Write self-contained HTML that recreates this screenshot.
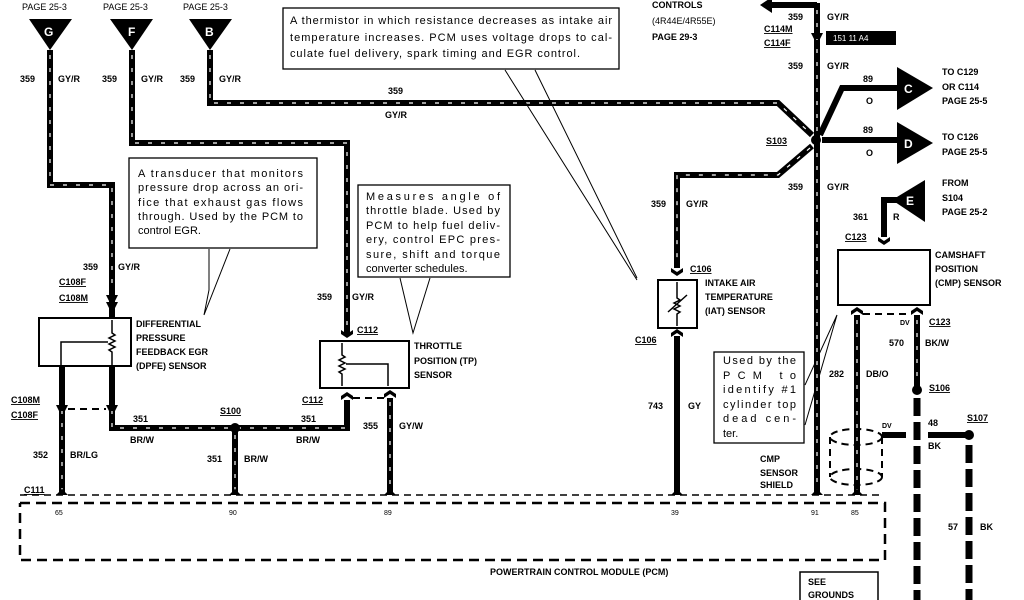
<!DOCTYPE html>
<html><head><meta charset="utf-8"><style>
html,body{margin:0;padding:0;background:#fff;}
svg{display:block;}
text{font-family:"Liberation Sans",sans-serif;fill:#000;}
.b{font-weight:bold;font-size:9px;}
.n{font-size:9px;}
.c{font-size:11px;}
.w{stroke:#000;stroke-width:6;fill:none;stroke-linejoin:miter;}
.s{stroke:#fff;stroke-width:1.2;fill:none;stroke-dasharray:4 9;}
.t{stroke:#000;stroke-width:1.5;fill:none;}
.bx{stroke:#000;stroke-width:2;fill:#fff;}
.d{stroke:#000;stroke-width:2.5;fill:none;stroke-dasharray:10 6;}
.dd{stroke:#000;stroke-width:2;fill:none;stroke-dasharray:7 5;}
.hd{stroke:#000;stroke-width:7;fill:none;stroke-dasharray:18 6;}
</style></head><body>
<svg width="1024" height="600" viewBox="0 0 1024 600" xmlns="http://www.w3.org/2000/svg">
<text x="22" y="10" class="n">PAGE  25-3</text>
<text x="103" y="10" class="n">PAGE  25-3</text>
<text x="183" y="10" class="n">PAGE  25-3</text>
<polygon points="29,19 72,19 50,50" fill="#000"/><text x="44" y="36" class="b" style="font-size:12px;fill:#fff">G</text>
<polygon points="110,19 153,19 132,50" fill="#000"/><text x="128" y="36" class="b" style="font-size:12px;fill:#fff">F</text>
<polygon points="189,19 232,19 210,50" fill="#000"/><text x="205" y="36" class="b" style="font-size:12px;fill:#fff">B</text>

<g>
<path class="w" d="M50,50 V185 H112 V318"/><path class="s" d="M50,55 V185 H112 V290"/>
<path class="w" d="M132,50 V143 H347 V335"/><path class="s" d="M132,55 V143 H347 V325"/>
<path class="w" d="M210,50 V103 H778 L812,135"/><path class="s" d="M210,55 V103 H778 L810,133"/>
<path class="w" d="M817,3 V493"/><path class="s" d="M817,10 V490"/>
<path class="w" d="M817,5 H770"/><polygon points="760,5 772,-3 772,13" fill="#000"/>
<path class="w" d="M820,135 L842,88 H900"/>
<path class="w" d="M822,140 H900"/>
<path class="w" d="M812,146 L778,175 H677 V268"/><path class="s" d="M810,148 L778,175 H677 V265"/>
<path class="w" d="M677,336 V493"/>
<path class="w" d="M900,200 H884 V237"/>
<path class="w" d="M112,366 V428 H347 V400"/><path class="s" d="M112,410 V428 H347"/>
<path class="w" d="M62,366 V493"/><path class="s" d="M62,410 V490"/>
<path class="w" d="M235,428 V493"/><path class="s" d="M235,435 V490"/>
<path class="w" d="M390,398 V493"/><path class="s" d="M390,402 V490"/>
<path class="w" d="M857,315 V493"/><path class="s" d="M857,320 V490"/>
<path class="w" d="M917,315 V388"/><path class="s" d="M917,320 V385"/>
<path class="hd" d="M917,398 V600"/>
<path class="w" d="M882,435 H906 M928,435 H966"/>
<path class="hd" d="M969,445 V600"/>
</g>
<circle cx="816" cy="140" r="5" fill="#000"/>
<circle cx="235" cy="428" r="5" fill="#000"/>
<circle cx="917" cy="390" r="5" fill="#000"/>
<circle cx="969" cy="435" r="5" fill="#000"/>

<polygon points="897,67 897,110 933,88" fill="#000"/><text x="904" y="93" class="b" style="font-size:12px;fill:#fff">C</text>
<polygon points="897,122 897,164 933,143" fill="#000"/><text x="904" y="148" class="b" style="font-size:12px;fill:#fff">D</text>
<polygon points="925,180 925,222 892,200" fill="#000"/><text x="906" y="205" class="b" style="font-size:12px;fill:#fff">E</text>

<g fill="#000">
<path d="M106,295 h12 l-3,6 h-6z M106,302 h12 l-3,6 h-6z"/>
<path d="M56,405 h12 l-3,6 h-6z M106,405 h12 l-3,6 h-6z"/>
<path d="M341,330 l6,4 l6,-4 v4 l-6,4 l-6,-4z M341,400 l6,-4 l6,4 v-4 l-6,-4 l-6,4z"/>
<path d="M384,398 l6,-4 l6,4 v-4 l-6,-4 l-6,4z"/>
<path d="M671,268 l6,4 l6,-4 v4 l-6,4 l-6,-4z M671,337 l6,-4 l6,4 v-4 l-6,-4 l-6,4z"/>
<path d="M878,237 l6,4 l6,-4 v4 l-6,4 l-6,-4z"/>
<path d="M851,315 l6,-4 l6,4 v-4 l-6,-4 l-6,4z M911,315 l6,-4 l6,4 v-4 l-6,-4 l-6,4z"/>
<path d="M56,495 l6,-6 l6,6z M229,495 l6,-6 l6,6z M384,495 l6,-6 l6,6z M671,495 l6,-6 l6,6z M811,495 l6,-6 l6,6z M851,495 l6,-6 l6,6z"/>
<path d="M811,33 h12 l-3,6 h-6z"/>
</g>
<rect x="826" y="31" width="70" height="14" fill="#000"/><text x="833" y="41" class="n" style="fill:#fff;font-size:8px">151 11  A4</text>
<path class="dd" d="M68,409 H106 M353,398 H384 M863,314 H911"/>

<path class="dd" d="M20,495 H880" style="stroke-width:1.5"/>
<path class="d" d="M20,503 H885 V560 H20 V503"/>
<text x="55" y="515" class="n" style="font-size:7px">65</text>
<text x="229" y="515" class="n" style="font-size:7px">90</text>
<text x="384" y="515" class="n" style="font-size:7px">89</text>
<text x="671" y="515" class="n" style="font-size:7px">39</text>
<text x="811" y="515" class="n" style="font-size:7px">91</text>
<text x="851" y="515" class="n" style="font-size:7px">85</text>
<text x="490" y="575" class="b">POWERTRAIN  CONTROL  MODULE  (PCM)</text>

<rect class="bx" x="39" y="318" width="92" height="48"/>
<path class="t" d="M112,320 V333 l3,2 l-6,3 l6,3 l-6,3 l6,3 l-6,3 l3,2 V366 M61,366 V342 H108"/>
<text x="136" y="327" class="b">DIFFERENTIAL</text>
<text x="136" y="341" class="b">PRESSURE</text>
<text x="136" y="355" class="b">FEEDBACK   EGR</text>
<text x="136" y="369" class="b">(DPFE)   SENSOR</text>

<rect class="bx" x="320" y="341" width="89" height="47"/>
<path class="t" d="M342,343 V355 l3,2 l-6,3 l6,3 l-6,3 l6,3 l-6,3 l3,2 V386 M346,364 H388 V386"/>
<text x="414" y="349" class="b">THROTTLE</text>
<text x="414" y="364" class="b">POSITION  (TP)</text>
<text x="414" y="378" class="b">SENSOR</text>

<rect class="bx" x="658" y="280" width="39" height="48"/>
<path class="t" d="M677,282 V298 l3,2 l-6,3 l6,3 l-6,3 l6,3 l-3,2 V326 M668,312 L687,295"/>
<text x="705" y="286" class="b">INTAKE AIR</text>
<text x="705" y="300" class="b">TEMPERATURE</text>
<text x="705" y="314" class="b">(IAT)  SENSOR</text>

<rect class="bx" x="838" y="250" width="92" height="55"/>
<text x="935" y="258" class="b">CAMSHAFT</text>
<text x="935" y="272" class="b">POSITION</text>
<text x="935" y="286" class="b">(CMP)  SENSOR</text>

<ellipse cx="856" cy="437" rx="26" ry="8" class="dd"/>
<ellipse cx="856" cy="477" rx="26" ry="8" class="dd"/>
<path class="dd" d="M830,437 V477 M882,437 V477"/>

<rect class="bx" x="800" y="572" width="78" height="40" style="stroke-width:1.5"/>
<text x="808" y="585" class="b">SEE</text><text x="808" y="598" class="b">GROUNDS</text>

<rect class="bx" x="283" y="8" width="336" height="61" style="stroke-width:1.3"/>
<text x="290" y="24" class="c" textLength="322" lengthAdjust="spacing">A thermistor in which resistance decreases as intake air</text>
<text x="290" y="41" class="c" textLength="322" lengthAdjust="spacing">temperature increases. PCM uses voltage drops to cal-</text>
<text x="290" y="57" class="c" textLength="290" lengthAdjust="spacing">culate fuel delivery, spark timing and EGR control.</text>
<path class="t" d="M505,70 L637,280 M535,70 L637,278" style="stroke-width:1"/>

<rect class="bx" x="129" y="158" width="188" height="90" style="stroke-width:1.3"/>
<text x="138" y="177" class="c" textLength="165" lengthAdjust="spacing">A transducer that monitors</text>
<text x="138" y="191" class="c" textLength="165" lengthAdjust="spacing">pressure drop across an ori-</text>
<text x="138" y="206" class="c" textLength="165" lengthAdjust="spacing">fice that exhaust gas flows</text>
<text x="138" y="220" class="c" textLength="165" lengthAdjust="spacing">through. Used by the PCM to</text>
<text x="138" y="234" class="c">control EGR.</text>
<path class="t" d="M209,249 V290 L204,315 L230,249" style="stroke-width:1"/>

<rect class="bx" x="358" y="185" width="152" height="92" style="stroke-width:1.3"/>
<text x="366" y="200" class="c" textLength="134" lengthAdjust="spacing">Measures angle of</text>
<text x="366" y="214" class="c" textLength="134" lengthAdjust="spacing">throttle blade. Used by</text>
<text x="366" y="229" class="c" textLength="134" lengthAdjust="spacing">PCM to help fuel deliv-</text>
<text x="366" y="243" class="c" textLength="134" lengthAdjust="spacing">ery, control EPC pres-</text>
<text x="366" y="258" class="c" textLength="134" lengthAdjust="spacing">sure, shift and torque</text>
<text x="366" y="272" class="c">converter schedules.</text>
<path class="t" d="M400,278 L413,333 L430,278" style="stroke-width:1"/>

<rect class="bx" x="714" y="352" width="90" height="91" style="stroke-width:1.3"/>
<text x="723" y="364" class="c" textLength="73" lengthAdjust="spacing">Used by the</text>
<text x="723" y="379" class="c" textLength="73" lengthAdjust="spacing">PCM to</text>
<text x="723" y="393" class="c" textLength="73" lengthAdjust="spacing">identify #1</text>
<text x="723" y="408" class="c" textLength="73" lengthAdjust="spacing">cylinder top</text>
<text x="723" y="422" class="c" textLength="73" lengthAdjust="spacing">dead cen-</text>
<text x="723" y="437" class="c">ter.</text>
<path class="t" d="M805,385 L837,315 L805,425" style="stroke-width:1"/>

<g class="b">
<text x="20" y="82" class="b">359</text><text x="58" y="82" class="b">GY/R</text>
<text x="102" y="82" class="b">359</text><text x="141" y="82" class="b">GY/R</text>
<text x="180" y="82" class="b">359</text><text x="219" y="82" class="b">GY/R</text>
<text x="388" y="94" class="b">359</text><text x="385" y="118" class="b">GY/R</text>
<text x="83" y="270" class="b">359</text><text x="118" y="270" class="b">GY/R</text>
<text x="59" y="285" class="b" style="text-decoration:underline">C108F</text>
<text x="59" y="301" class="b" style="text-decoration:underline">C108M</text>
<text x="317" y="300" class="b">359</text><text x="352" y="300" class="b">GY/R</text>
<text x="357" y="333" class="b" style="text-decoration:underline">C112</text>
<text x="11" y="403" class="b" style="text-decoration:underline">C108M</text>
<text x="11" y="418" class="b" style="text-decoration:underline">C108F</text>
<text x="133" y="422" class="b">351</text><text x="130" y="443" class="b">BR/W</text>
<text x="220" y="414" class="b" style="text-decoration:underline">S100</text>
<text x="302" y="403" class="b" style="text-decoration:underline">C112</text>
<text x="301" y="422" class="b">351</text><text x="296" y="443" class="b">BR/W</text>
<text x="363" y="429" class="b">355</text><text x="399" y="429" class="b">GY/W</text>
<text x="33" y="458" class="b">352</text><text x="70" y="458" class="b">BR/LG</text>
<text x="207" y="462" class="b">351</text><text x="244" y="462" class="b">BR/W</text>
<text x="24" y="493" class="b" style="text-decoration:underline">C111</text>
<text x="652" y="8" class="b">CONTROLS</text>
<text x="652" y="24" class="b" style="font-weight:normal">(4R44E/4R55E)</text>
<text x="652" y="40" class="n">PAGE 29-3</text>
<text x="788" y="20" class="b">359</text><text x="827" y="20" class="b">GY/R</text>
<text x="764" y="32" class="b" style="text-decoration:underline">C114M</text>
<text x="764" y="46" class="b" style="text-decoration:underline">C114F</text>
<text x="788" y="69" class="b">359</text><text x="827" y="69" class="b">GY/R</text>
<text x="863" y="82" class="b">89</text><text x="866" y="104" class="b">O</text>
<text x="863" y="133" class="b">89</text><text x="866" y="156" class="b">O</text>
<text x="766" y="144" class="b" style="text-decoration:underline">S103</text>
<text x="788" y="190" class="b">359</text><text x="827" y="190" class="b">GY/R</text>
<text x="651" y="207" class="b">359</text><text x="686" y="207" class="b">GY/R</text>
<text x="690" y="272" class="b" style="text-decoration:underline">C106</text>
<text x="635" y="343" class="b" style="text-decoration:underline">C106</text>
<text x="648" y="409" class="b">743</text><text x="688" y="409" class="b">GY</text>
<text x="942" y="75" class="b">TO C129</text>
<text x="942" y="90" class="b">OR C114</text>
<text x="942" y="104" class="n">PAGE 25-5</text>
<text x="942" y="140" class="b">TO C126</text>
<text x="942" y="155" class="n">PAGE 25-5</text>
<text x="942" y="186" class="b">FROM</text>
<text x="942" y="201" class="b">S104</text>
<text x="942" y="215" class="n">PAGE 25-2</text>
<text x="853" y="220" class="b">361</text><text x="893" y="220" class="b">R</text>
<text x="845" y="240" class="b" style="text-decoration:underline">C123</text>
<text x="929" y="325" class="b" style="text-decoration:underline">C123</text>
<text x="900" y="325" class="n" style="font-size:7px">DV</text>
<text x="889" y="346" class="b">570</text><text x="925" y="346" class="b">BK/W</text>
<text x="829" y="377" class="b">282</text><text x="866" y="377" class="b">DB/O</text>
<text x="929" y="391" class="b" style="text-decoration:underline">S106</text>
<text x="882" y="428" class="n" style="font-size:7px">DV</text>
<text x="928" y="426" class="b">48</text><text x="928" y="449" class="b">BK</text>
<text x="967" y="421" class="b" style="text-decoration:underline">S107</text>
<text x="760" y="462" class="b">CMP</text>
<text x="760" y="476" class="b">SENSOR</text>
<text x="760" y="488" class="b">SHIELD</text>
<text x="948" y="530" class="b">57</text><text x="980" y="530" class="b">BK</text>
</g>
</svg>
</body></html>
